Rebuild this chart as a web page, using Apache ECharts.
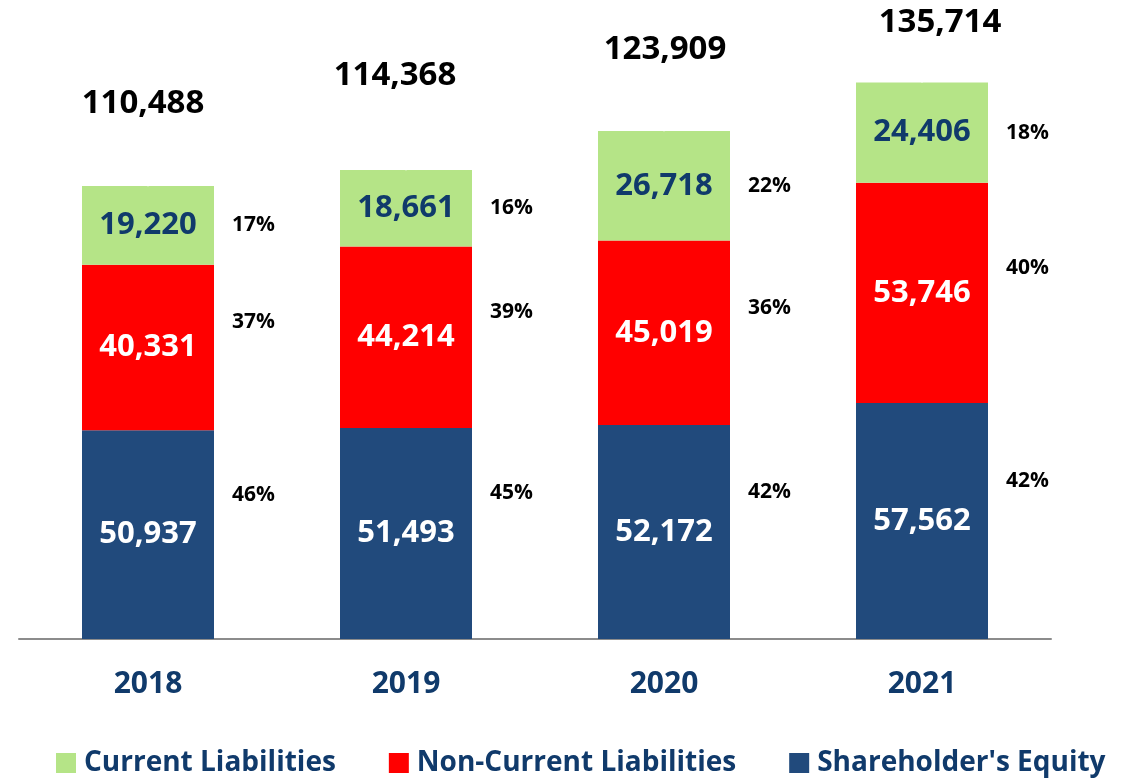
<!DOCTYPE html>
<html>
<head>
<meta charset="utf-8">
<script src="https://cdn.jsdelivr.net/npm/echarts@6/dist/echarts.min.js"></script>
<style>
  html, body { margin: 0; padding: 0; background: #fff; }
  #chart { width: 1145px; height: 778px; }
</style>
</head>
<body>
<div id="chart"></div>
<script>
const years = ['2018', '2019', '2020', '2021']
const currentLiabilities = [19220, 18661, 26718, 24406]
const nonCurrentLiabilities = [40331, 44214, 45019, 53746]
const shareholdersEquity = [50937, 51493, 52172, 57562]
const totals = [110488, 114368, 123909, 135714]
const pctCurrent = [17, 16, 22, 18]
const pctNonCurrent = [37, 39, 36, 40]
const pctEquity = [46, 45, 42, 42]

// label nudges (layout only)
const totalOffsets = [[-5, -82], [-11, -94], [1, -81], [18, -60]]

const FONT = '"Open Sans", "Noto Sans", sans-serif'
const navy = '#103a6b'
const fmt = v => v.toLocaleString('en-US')

const chart = echarts.init(document.getElementById('chart'))

const valueLabel = color => ({
  show: true,
  position: 'inside',
  color: color,
  fontFamily: FONT,
  fontWeight: 'bold',
  fontSize: 31,
  formatter: p => fmt(p.value)
})

const pctSeries = (name, values, pcts, dy) => ({
  name: name,
  type: 'bar',
  xAxisIndex: 1,
  stack: 'pct',
  barWidth: 132,
  silent: true,
  itemStyle: { color: 'rgba(0,0,0,0)' },
  data: values.map((v, i) => ({ value: v, pct: pcts[i] })),
  label: {
    show: true,
    position: 'right',
    distance: 18,
    offset: [0, dy],
    color: '#000',
    fontFamily: FONT,
    fontWeight: 'bold',
    fontSize: 21,
    formatter: p => p.data.pct + '%'
  }
})

const option = {
  animation: false,
  backgroundColor: '#fff',
  grid: { left: 19, right: 94, top: 24, bottom: 139 },
  legend: {
    data: ['Current Liabilities', 'Non-Current Liabilities', "Shareholder's Equity"],
    left: 51,
    top: 744,
    icon: 'rect',
    itemWidth: 20,
    itemHeight: 20,
    itemGap: 53,
    textStyle: {
      color: navy,
      fontFamily: FONT,
      fontWeight: 'bold',
      fontSize: 28,
      padding: [0, 0, 0, 3]
    }
  },
  xAxis: [
    {
      type: 'category',
      data: years,
      axisLine: { lineStyle: { color: '#8c8c8c', width: 2 } },
      axisTick: { show: false },
      axisLabel: {
        margin: 30,
        color: navy,
        fontFamily: FONT,
        fontWeight: 'bold',
        fontSize: 30
      }
    },
    { type: 'category', data: years, show: false }
  ],
  yAxis: { type: 'value', min: 0, max: 150000, show: false, splitLine: { show: false } },
  series: [
    {
      name: "Shareholder's Equity",
      type: 'bar',
      stack: 'total',
      barWidth: 132,
      itemStyle: { color: '#214a7c' },
      label: valueLabel('#fff'),
      data: shareholdersEquity
    },
    {
      name: 'Non-Current Liabilities',
      type: 'bar',
      stack: 'total',
      itemStyle: { color: '#ff0000' },
      label: valueLabel('#fff'),
      data: nonCurrentLiabilities
    },
    {
      name: 'Current Liabilities',
      type: 'bar',
      stack: 'total',
      itemStyle: { color: '#b5e487' },
      label: valueLabel(navy),
      data: currentLiabilities
    },
    pctSeries('pe', shareholdersEquity, pctEquity, -40),
    pctSeries('pn', nonCurrentLiabilities, pctNonCurrent, -25),
    pctSeries('pc', currentLiabilities, pctCurrent, 0),
    {
      name: 'totals',
      type: 'scatter',
      symbolSize: 1,
      silent: true,
      itemStyle: { color: '#ffffff', opacity: 1 },
      data: totals.map((t, i) => ({
        value: [years[i], t],
        label: { offset: totalOffsets[i] }
      })),
      label: {
        show: true,
        position: 'inside',
        color: '#000000',
        opacity: 1,
        fontFamily: FONT,
        fontWeight: 'bold',
        fontSize: 33,
        formatter: p => fmt(p.value[1])
      }
    }
  ]
}

chart.setOption(option)
</script>
</body>
</html>
